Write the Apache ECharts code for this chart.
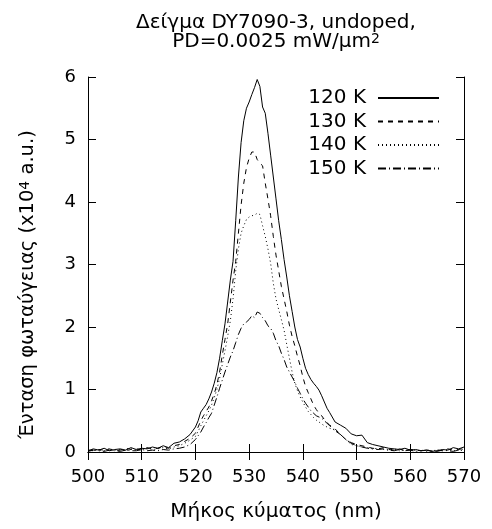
<!DOCTYPE html>
<html>
	<head>
		<meta charset="UTF-8">
		<title>DY7090-3</title>
		<script src="https://cdn.jsdelivr.net/npm/echarts@6/dist/echarts.min.js"></script>
		<style>
			html, body { margin: 0; padding: 0; background: #fff; }
			#chart { width: 492px; height: 529px; }
		</style>
	</head>
	<body>
		<div id="chart"></div>
		<script type="text/javascript">
			// wavelength (nm)
			var waveLen = [
				500, 501, 502, 503, 504, 505, 506, 507, 508, 509, 510, 511, 512, 513, 514, 515, 516, 517, 518, 519,
				520, 520.5, 521, 521.5, 522, 522.5, 523, 523.5, 524, 524.5,
				525, 525.5, 526, 526.5, 527, 527.5, 528, 528.5, 529, 529.5,
				530, 530.5, 531, 531.5, 532, 532.5, 533, 533.5, 534, 534.5,
				535, 535.5, 536, 536.5, 537, 537.5, 538, 538.5, 539, 539.5,
				540, 540.5, 541, 541.5, 542, 542.5, 543, 543.5, 544, 544.5,
				545,
				546, 547, 548, 549, 550, 551, 552, 553, 554, 555, 556, 557, 558, 559, 560,
				561, 562, 563, 564, 565, 566, 567, 568, 569, 570
			];

			// intensity (x10^4 a.u.)
			var k120 = [
				0.02, 0.05, 0.03, 0.06, 0.02, 0.04, 0.05, 0.03, 0.07, 0.04, 0.06, 0.05, 0.08, 0.06, 0.10, 0.07, 0.14, 0.16, 0.21, 0.28,
				0.40, 0.50, 0.64, 0.70, 0.76, 0.85, 0.96, 1.10, 1.27, 1.50,
				1.78, 2.05, 2.40, 2.75, 3.05, 3.70, 4.40, 4.95, 5.30, 5.50,
				5.60, 5.72, 5.83, 5.96, 5.85, 5.52, 5.42, 5.10, 4.75, 4.40,
				4.05, 3.70, 3.40, 3.08, 2.80, 2.50, 2.25, 2.00, 1.80, 1.68,
				1.50, 1.34, 1.24, 1.16, 1.10, 1.05, 0.99, 0.90, 0.80, 0.70,
				0.63,
				0.48, 0.43, 0.38, 0.29, 0.26, 0.27, 0.15, 0.12, 0.10, 0.08, 0.06, 0.05, 0.04, 0.06, 0.03,
				0.04, 0.02, 0.03, 0.01, 0.02, 0.04, 0.03, 0.07, 0.05, 0.08
			];
			var k130 = [
				0.03, 0.02, 0.04, 0.03, 0.05, 0.02, 0.03, 0.06, 0.04, 0.05, 0.03, 0.07, 0.05, 0.06, 0.08, 0.06, 0.10, 0.12, 0.17, 0.22,
				0.30, 0.40, 0.50, 0.58, 0.65, 0.72, 0.82, 0.93, 1.08, 1.28,
				1.55, 1.80, 2.05, 2.40, 2.75, 3.05, 3.50, 3.95, 4.30, 4.55,
				4.70, 4.80, 4.80, 4.68, 4.62, 4.58, 4.30, 4.05, 3.78, 3.45,
				3.15, 2.90, 2.65, 2.45, 2.25, 2.03, 1.85, 1.70, 1.53, 1.38,
				1.20, 1.05, 0.95, 0.85, 0.75, 0.68, 0.62, 0.58, 0.52, 0.47,
				0.43,
				0.37, 0.28, 0.20, 0.15, 0.12, 0.10, 0.08, 0.06, 0.05, 0.07, 0.04, 0.03, 0.05, 0.02, 0.04,
				0.03, 0.02, 0.04, 0.01, 0.03, 0.02, 0.05, 0.03, 0.04, 0.06
			];
			var k140 = [
				0.02, 0.04, 0.03, 0.02, 0.05, 0.03, 0.04, 0.02, 0.05, 0.03, 0.04, 0.06, 0.04, 0.05, 0.07, 0.05, 0.08, 0.10, 0.14, 0.19,
				0.25, 0.33, 0.42, 0.50, 0.58, 0.66, 0.75, 0.87, 1.00, 1.18,
				1.40, 1.62, 1.85, 2.10, 2.45, 2.90, 3.25, 3.50, 3.62, 3.72,
				3.76, 3.78, 3.79, 3.82, 3.80, 3.62, 3.45, 3.25, 3.02, 2.70,
				2.45, 2.28, 2.12, 1.95, 1.72, 1.50, 1.28, 1.10, 0.98, 0.88,
				0.80, 0.72, 0.65, 0.60, 0.55, 0.51, 0.48, 0.45, 0.42, 0.40,
				0.38,
				0.35, 0.28, 0.20, 0.12, 0.10, 0.08, 0.07, 0.05, 0.06, 0.04, 0.03, 0.05, 0.02, 0.03, 0.04,
				0.02, 0.03, 0.01, 0.02, 0.03, 0.02, 0.04, 0.02, 0.03, 0.05
			];
			var k150 = [
				0.01, 0.03, 0.02, 0.01, 0.03, 0.02, 0.01, 0.03, 0.02, 0.02, 0.04, 0.02, 0.03, 0.02, 0.04, 0.03, 0.05, 0.06, 0.08, 0.12,
				0.20, 0.26, 0.32, 0.40, 0.47, 0.55, 0.62, 0.75, 0.88, 1.02,
				1.15, 1.28, 1.40, 1.52, 1.62, 1.75, 1.88, 1.98, 2.05, 2.08,
				2.12, 2.18, 2.15, 2.24, 2.22, 2.15, 2.10, 2.02, 1.98, 1.90,
				1.78, 1.70, 1.58, 1.48, 1.36, 1.28, 1.20, 1.12, 1.02, 0.94,
				0.85, 0.78, 0.72, 0.66, 0.62, 0.58, 0.56, 0.54, 0.50, 0.46,
				0.42,
				0.34, 0.28, 0.20, 0.14, 0.10, 0.08, 0.06, 0.05, 0.04, 0.05, 0.03, 0.02, 0.04, 0.02, 0.03,
				0.01, 0.02, 0.03, 0.02, 0.01, 0.03, 0.02, 0.01, 0.03, 0.02
			];

			var seriesNames = ['120 K', '130 K', '140 K', '150 K'];
			var seriesData = [k120, k130, k140, k150];
			var dashTypes = ['solid', [5, 5], [1, 3], [8, 3, 1, 3]];

			var FONT = 'DejaVu Sans';

			function pairs(ys) {
				var out = [];
				for(var i = 0; i < waveLen.length; i++) {
					out.push([waveLen[i], ys[i]]);
				}
				return out;
			}

			var series = [];
			for(var s = 0; s < seriesNames.length; s++) {
				series.push({
					name: seriesNames[s],
					type: 'line',
					data: pairs(seriesData[s]),
					symbol: 'none',
					smooth: false,
					lineStyle: {
						color: '#000',
						width: 1,
						type: dashTypes[s]
					},
					itemStyle: { color: '#000' }
				});
			}

			var axisCommon = {
				axisLine: { show: true, lineStyle: { color: '#000', width: 1 } },
				axisTick: { show: true, inside: true, length: 8, lineStyle: { color: '#000' } },
				splitLine: { show: false }
			};

			// superscript style for rich text
			function supStyle(size) {
				return {
					fontFamily: FONT,
					fontSize: size,
					color: '#000',
					lineHeight: 9,
					verticalAlign: 'top'
				};
			}

			var myChart = echarts.init(document.getElementById('chart'));
			var option = {
				animation: false,
				backgroundColor: '#fff',
				title: {
					text: 'Δείγμα DY7090-3, undoped,\nPD=0.0025 mW/μm{sup|2}',
					left: 271,
					top: 8,
					textAlign: 'center',
					textStyle: {
						fontFamily: FONT,
						fontSize: 20,
						fontWeight: 'normal',
						color: '#000',
						lineHeight: 19,
						align: 'center',
						rich: { sup: supStyle(14) }
					}
				},
				legend: {
					orient: 'vertical',
					right: 47,
					top: 83,
					align: 'right',
					itemWidth: 61,
					itemHeight: 10,
					itemGap: 3.5,
					data: seriesNames,
					itemStyle: { opacity: 0 },
					textStyle: {
						fontFamily: FONT,
						fontSize: 20,
						color: '#000',
						lineHeight: 20,
						padding: [0, 7, 0, 0]
					}
				},
				grid: {
					left: 88,
					right: 28,
					top: 77,
					bottom: 77
				},
				xAxis: [
					Object.assign({
						type: 'value',
						min: 500,
						max: 570,
						interval: 10,
						position: 'bottom',
						name: 'Μήκος κύματος (nm)',
						nameLocation: 'middle',
						nameGap: 50,
						nameTextStyle: { fontFamily: FONT, fontSize: 20, color: '#000' },
						axisLabel: { fontFamily: FONT, fontSize: 18, color: '#000', margin: 16 }
					}, axisCommon),
					Object.assign({
						type: 'value',
						min: 500,
						max: 570,
						interval: 10,
						position: 'top',
						axisLabel: { show: false }
					}, axisCommon)
				],
				yAxis: [
					Object.assign({
						type: 'value',
						min: 0,
						max: 6,
						interval: 1,
						position: 'left',
						name: 'Ένταση φωταύγειας (x10{sup|4} a.u.)',
						nameLocation: 'middle',
						nameGap: 50,
						nameTextStyle: {
							fontFamily: FONT,
							fontSize: 19.5,
							color: '#000',
							lineHeight: 20,
							padding: [0, 40, 0, 0],
							rich: { sup: supStyle(14) }
						},
						axisLabel: { fontFamily: FONT, fontSize: 18, color: '#000', margin: 12 }
					}, axisCommon),
					Object.assign({
						type: 'value',
						min: 0,
						max: 6,
						interval: 1,
						position: 'right',
						axisLabel: { show: false }
					}, axisCommon)
				],
				series: series
			};
			myChart.setOption(option);
		</script>
	</body>
</html>
